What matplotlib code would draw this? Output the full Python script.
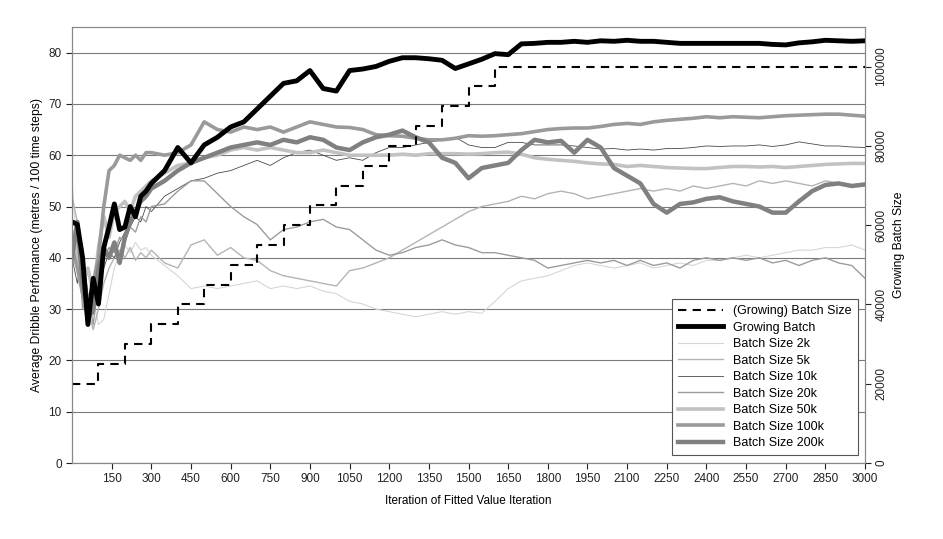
import matplotlib.pyplot as plt

plt.rcParams['font.family'] = ['Liberation Sans', 'DejaVu Sans']

# iteration grid the curves were read at
ITER = [0, 20, 40, 60, 80, 100, 120, 140, 160, 180, 200, 220, 240, 260, 280,
        300, 350, 400, 450, 500, 550, 600, 650, 700, 750, 800, 850, 900, 950,
        1000, 1050, 1100, 1150, 1200, 1250, 1300, 1350, 1400, 1450, 1500, 1550,
        1600, 1650, 1700, 1750, 1800, 1850, 1900, 1950, 2000, 2050, 2100, 2150,
        2200, 2250, 2300, 2350, 2400, 2450, 2500, 2550, 2600, 2650, 2700, 2750,
        2800, 2850, 2900, 2950, 3000]

growing = [47, 46.5, 40, 27, 36, 31, 42, 46, 50.5, 45.5, 46, 50, 48, 52, 53,
           54.5, 57, 61.5, 58.5, 62, 63.5, 65.5, 66.5, 69, 71.5, 74, 74.5, 76.5, 73,
           72.5, 76.5, 76.8, 77.3, 78.3, 79, 79, 78.8, 78.5, 76.9, 77.8, 78.7,
           79.8, 79.6, 81.7, 81.8, 82, 82, 82.2, 82, 82.3, 82.2, 82.4, 82.2,
           82.2, 82, 81.8, 81.8, 81.8, 81.8, 81.8, 81.8, 81.8, 81.6, 81.5, 81.9,
           82.1, 82.4, 82.3, 82.2, 82.3]

bs2k = [55, 40, 38, 30, 32, 27, 28, 33, 38, 41, 42.5, 41, 43, 41.5, 42,
        40.5, 38.5, 36.5, 34, 34.5, 34, 34.5, 35, 35.5, 34, 34.5, 34, 34.5, 33.5,
        33, 31.5, 31, 30, 29.5, 29, 28.5, 29, 29.5, 29, 29.5, 29.2,
        31.5, 34, 35.5, 36, 36.5, 37.5, 38.5, 39, 38.5, 38, 38.5, 39,
        38, 38.5, 39, 38.5, 39.5, 39.5, 40, 40.5, 40, 40.5, 41, 41.5,
        41.5, 42, 42, 42.5, 41.5]

bs5k = [52, 47, 36, 30, 26, 30, 35, 38, 40, 41.5, 40, 42, 39.5, 41, 40,
        41.5, 39, 38, 42.5, 43.5, 40.5, 42, 40, 39.5, 37.5, 36.5, 36, 35.5, 35,
        34.5, 37.5, 38, 39, 40, 41.5, 43, 44.5, 46, 47.5, 49, 50,
        50.5, 51, 52, 51.5, 52.5, 53, 52.5, 51.5, 52, 52.5, 53, 53.5,
        53, 53.5, 53, 54, 53.5, 54, 54.5, 54, 55, 54.5, 55, 54.5,
        54, 55, 54.5, 54, 54.5]

bs10k = [40, 35, 42, 33, 29, 33, 38, 41, 40, 43, 45, 46, 48, 47, 50,
         49, 52, 53.5, 55, 55.5, 56.5, 57, 58, 59, 58, 59.5, 60.5, 61, 60,
         59, 59.5, 59, 60.5, 61.5, 61.5, 62, 62.5, 63, 63.5, 62, 61.5,
         61.5, 62.5, 62.5, 62, 62, 62, 61.8, 61.5, 61.2, 61.3, 61, 61.2,
         61, 61.3, 61.3, 61.5, 61.8, 61.7, 61.8, 61.8, 62, 61.7, 62, 62.6,
         62.2, 61.8, 61.8, 61.6, 61.5]

bs20k = [38, 45, 30, 33, 27, 35, 40, 42, 41, 44, 43, 46, 45, 48, 47,
         50, 50.5, 53, 55, 55, 52.5, 50, 48, 46.5, 43.5, 45.5, 46, 47, 47.5,
         46, 45.5, 43.5, 41.5, 40.5, 41, 42, 42.5, 43.5, 42.5, 42, 41,
         41, 40.5, 40, 39.5, 38, 38.5, 39, 39.5, 39, 39.5, 38.5, 39.5,
         38.5, 39, 38, 39.5, 40, 39.5, 40, 39.5, 40, 39, 39.5, 38.5,
         39.5, 40, 39, 38.5, 36]

bs50k = [45, 40, 35, 38, 33, 42, 48, 44, 49, 50, 51, 49, 52, 53, 54,
         55, 56.5, 58, 58.5, 59.5, 60, 61, 61.5, 61, 61.5, 61, 60.5, 60.5, 61,
         60.5, 60, 60, 60, 60, 60.2, 60, 60.3, 60.3, 60.3, 60.2, 60.3,
         60.5, 60.6, 60.2, 59.5, 59.2, 59, 58.8, 58.5, 58.3, 58.2, 57.8, 58,
         57.8, 57.6, 57.5, 57.4, 57.4, 57.6, 57.8, 57.8, 57.7, 57.8, 57.6, 57.8,
         58, 58.2, 58.3, 58.4, 58.4]

bs100k = [42, 38, 33, 30, 35, 40, 50, 57, 58, 60, 59.5, 59, 60, 59, 60.5,
          60.5, 60, 60.5, 62, 66.5, 65, 64.5, 65.5, 65, 65.5, 64.5, 65.5, 66.5, 66,
          65.5, 65.4, 65, 64, 63.8, 63.7, 63.3, 63, 63, 63.3, 63.8, 63.7,
          63.8, 64, 64.2, 64.6, 65, 65.2, 65.3, 65.3, 65.6, 66, 66.2, 66,
          66.5, 66.8, 67, 67.2, 67.5, 67.3, 67.5, 67.4, 67.3, 67.5, 67.7, 67.8,
          67.9, 68, 68, 67.8, 67.6]

bs200k = [40, 47, 35, 28, 30, 38, 42, 40, 43, 39, 44, 47, 49, 51, 52,
          53.5, 55, 57, 58.5, 59.5, 60.5, 61.5, 62, 62.5, 62, 63, 62.5, 63.5, 63,
          61.5, 61, 62.5, 63.5, 64, 64.8, 63.5, 62.5, 59.5, 58.5, 55.5, 57.5,
          58, 58.5, 61, 63, 62.5, 62.8, 60.5, 63, 61.5, 57.5, 56, 54.5,
          50.5, 48.8, 50.5, 50.8, 51.5, 51.8, 51, 50.5, 50, 48.8, 48.8, 51,
          53, 54.2, 54.5, 54, 54.3]

# batch size of the growing-batch run (right axis)
batch_iter = [0, 100, 200, 300, 400, 500, 600, 700, 800, 900, 1000, 1100, 1200,
              1300, 1400, 1500, 1600, 3000]
batch_size = [20000, 25000, 30000, 35000, 40000, 45000, 50000, 55000, 60000,
              65000, 70000, 75000, 80000, 85000, 90000, 95000, 100000, 100000]

series = [
    ('Batch Size 2k', bs2k, '#d6d6d6', 0.8),
    ('Batch Size 5k', bs5k, '#b4b4b4', 1.0),
    ('Batch Size 10k', bs10k, '#4a4a4a', 0.6),
    ('Batch Size 20k', bs20k, '#9c9c9c', 1.0),
    ('Batch Size 50k', bs50k, '#c2c2c2', 2.6),
    ('Batch Size 100k', bs100k, '#9a9a9a', 2.6),
    ('Batch Size 200k', bs200k, '#808080', 3.2),
]

fig = plt.figure(figsize=(9.43, 5.39), dpi=100)
ax = fig.add_axes([0.0764, 0.141, 0.8409, 0.809])

handles = []
for label, vals, col, lw in series:
    h, = ax.plot(ITER, vals, color=col, lw=lw, label=label)
    handles.append(h)
hg, = ax.plot(ITER, growing, color='black', lw=3.5, label='Growing Batch', zorder=5)

ax.set_xlim(0, 3000)
ax.set_ylim(0, 85)
ax.set_xticks(range(150, 3001, 150))
ax.set_yticks(range(0, 81, 10))
ax.yaxis.grid(True, color='#7a7a7a', lw=0.8)
ax.set_axisbelow(True)
ax.tick_params(labelsize=8.5, colors='#222222', length=4)
ax.set_xlabel('Iteration of Fitted Value Iteration', fontsize=8.5, labelpad=7)
ax.set_ylabel('Average Dribble Perfomance (metres / 100 time steps)', fontsize=8.7)
for s in ax.spines.values():
    s.set_color('#888888')

ax2 = ax.twinx()
hb, = ax2.step(batch_iter, batch_size, where='post', color='black', lw=1.5,
               linestyle=(0, (4, 3)), label='(Growing) Batch Size')
ax2.set_ylim(0, 110000)
ax2.set_yticks(range(0, 100001, 20000))
ax2.tick_params(labelsize=8.5, colors='#222222', length=4)
for t in ax2.get_yticklabels():
    t.set_rotation(90)
    t.set_va('center')
ax2.set_ylabel('Growing Batch Size', fontsize=8.7)
for s in ax2.spines.values():
    s.set_color('#888888')

leg = ax2.legend([hb, hg] + handles,
                 ['(Growing) Batch Size', 'Growing Batch'] + [s[0] for s in series],
                 loc='lower right', bbox_to_anchor=(0.9985, 0.003), fontsize=9,
                 fancybox=False, framealpha=1, edgecolor='#555555',
                 handlelength=3.6, labelspacing=0.36, borderpad=0.5)
leg.get_frame().set_linewidth(0.8)

fig.savefig('out.png', dpi=100)
